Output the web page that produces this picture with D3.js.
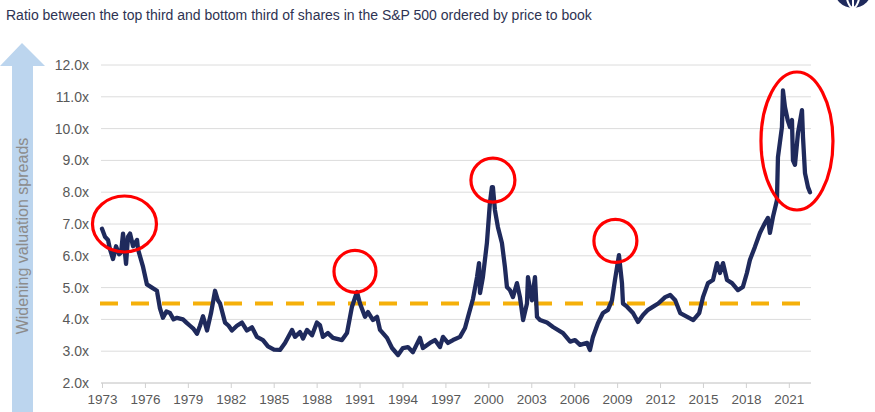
<!DOCTYPE html>
<html>
<head>
<meta charset="utf-8">
<script src="https://cdn.jsdelivr.net/npm/d3@7"></script>
<style>
  body { margin: 0; background: #fff; }
  svg { display: block; font-family: "Liberation Sans", Arial, sans-serif; }
</style>
</head>
<body>
<div id="chart"></div>
<script>
// Set dimensions
var w = 875;
var h = 412;
var margin = {top: 65, right: 64, bottom: 29, left: 102};

// Data (decimal year, ratio)
var years = [
  1973.00, 1973.21, 1973.42, 1973.56, 1973.77, 1973.98, 1974.19, 1974.33, 1974.47, 1974.68,
  1974.82, 1974.96, 1975.17, 1975.45, 1975.52, 1975.87, 1976.14, 1976.49, 1976.84, 1977.05,
  1977.26, 1977.50, 1977.75, 1978.00, 1978.24, 1978.66, 1978.90, 1979.15, 1979.40, 1979.64,
  1979.85, 1980.06, 1980.34, 1980.62, 1980.90, 1981.10, 1981.25, 1981.60, 1981.85, 1982.08,
  1982.43, 1982.78, 1983.13, 1983.48, 1983.83, 1984.25, 1984.60, 1985.02, 1985.44, 1985.79,
  1986.28, 1986.49, 1986.84, 1987.05, 1987.33, 1987.68, 1988.02, 1988.23, 1988.44, 1988.79,
  1989.14, 1989.50, 1989.77, 1990.12, 1990.47, 1990.82, 1991.03, 1991.38, 1991.59, 1991.94,
  1992.22, 1992.43, 1992.92, 1993.27, 1993.69, 1994.03, 1994.38, 1994.73, 1995.22, 1995.43,
  1995.92, 1996.27, 1996.62, 1996.83, 1997.18, 1997.53, 1998.02, 1998.37, 1998.58, 1998.93,
  1999.21, 1999.35, 1999.42, 1999.62, 1999.90, 2000.11, 2000.25, 2000.32, 2000.46, 2000.67,
  2000.95, 2001.16, 2001.30, 2001.51, 2001.72, 2002.00, 2002.21, 2002.43, 2002.70, 2002.77,
  2003.05, 2003.26, 2003.40, 2003.61, 2004.10, 2004.52, 2005.22, 2005.72, 2006.06, 2006.41,
  2006.90, 2007.10, 2007.31, 2007.66, 2008.01, 2008.36, 2008.64, 2008.85, 2009.13, 2009.34,
  2009.41, 2009.69, 2010.11, 2010.46, 2010.81, 2011.16, 2011.52, 2011.87, 2012.36, 2012.71,
  2013.06, 2013.41, 2013.90, 2014.32, 2014.74, 2015.00, 2015.35, 2015.70, 2015.98, 2016.19,
  2016.40, 2016.68, 2017.03, 2017.44, 2017.79, 2018.07, 2018.28, 2018.63, 2018.98, 2019.33,
  2019.54, 2019.68, 2019.89, 2020.17, 2020.24, 2020.52, 2020.59, 2020.73, 2020.92, 2021.08,
  2021.22, 2021.29, 2021.43, 2021.64, 2021.92, 2021.99, 2022.13, 2022.34, 2022.48
];

var ratios = [
  6.85, 6.60, 6.50, 6.20, 5.90, 6.30, 6.05, 6.10, 6.70, 5.75,
  6.60, 6.70, 6.30, 6.50, 6.20, 5.65, 5.10, 5.00, 4.90, 4.35,
  4.05, 4.25, 4.20, 4.00, 4.05, 4.00, 3.90, 3.80, 3.70, 3.55,
  3.80, 4.10, 3.65, 4.20, 4.90, 4.60, 4.50, 3.90, 3.80, 3.65,
  3.80, 3.90, 3.65, 3.75, 3.45, 3.35, 3.15, 3.05, 3.04, 3.26,
  3.67, 3.45, 3.60, 3.40, 3.67, 3.50, 3.90, 3.82, 3.45, 3.57,
  3.42, 3.38, 3.35, 3.57, 4.40, 4.86, 4.50, 4.08, 4.23, 3.98,
  4.08, 3.67, 3.42, 3.10, 2.88, 3.10, 3.13, 2.97, 3.42, 3.10,
  3.26, 3.35, 3.13, 3.45, 3.26, 3.35, 3.45, 3.73, 4.08, 4.65,
  5.33, 5.77, 4.83, 5.33, 6.40, 7.66, 8.16, 8.16, 7.44, 6.90,
  6.40, 5.65, 5.02, 4.92, 4.70, 5.14, 4.70, 3.98, 4.50, 5.33,
  4.60, 5.33, 4.08, 3.98, 3.90, 3.76, 3.57, 3.30, 3.35, 3.20,
  3.26, 3.04, 3.45, 3.88, 4.20, 4.30, 4.60, 5.24, 6.02, 5.14,
  4.50, 4.40, 4.20, 3.92, 4.14, 4.30, 4.40, 4.50, 4.70, 4.77,
  4.60, 4.20, 4.08, 3.98, 4.20, 4.70, 5.14, 5.24, 5.77, 5.46,
  5.77, 5.24, 5.14, 4.92, 5.02, 5.46, 5.87, 6.28, 6.72, 7.03,
  7.19, 6.72, 7.22, 7.75, 9.10, 10.05, 11.20, 10.68, 10.27, 10.05,
  10.27, 9.00, 8.86, 9.86, 10.58, 9.74, 8.60, 8.16, 8.00
];

var tickYears = d3.range(1973, 2022, 3);
var tickValues = d3.range(2, 13, 1);
var averageRatio = 4.5;

// Highlighted episodes: centre (year, ratio), radii in px
var highlightYears = [1974.57, 1990.68, 2000.32, 2008.88, 2021.57];
var highlightRatios = [7.0, 5.51, 8.38, 6.47, 9.61];
var highlightRx = [32, 21, 22, 21.5, 36];
var highlightRy = [28, 21, 22, 21.5, 69];

var titleText = "Ratio between the top third and bottom third of shares in the S&P 500 ordered by price to book";
var arrowText = "Widening valuation spreads";

var dataset = years.map(function(y, i) { return {year: y, value: ratios[i]}; });

var xScale = d3.scaleLinear()
    .domain([1973, 2022.55])
    .range([margin.left, w - margin.right]);

var yScale = d3.scaleLinear()
    .domain([2, 12])
    .range([h - margin.bottom, margin.top]);

var svg = d3.select("#chart")
    .append("svg")
    .attr("width", w)
    .attr("height", h);

// Title
svg.append("text")
    .attr("x", 6)
    .attr("y", 20)
    .style("font-size", "14px")
    .style("fill", "#2e3352")
    .text(titleText);

// Logo fragment top right
var logo = svg.append("g").attr("transform", "translate(853,-11)");
logo.append("circle").attr("r", 19).style("fill", "#1f2a5c");
logo.append("ellipse").attr("rx", 7).attr("ry", 19)
    .style("fill", "none").style("stroke", "#fff").style("stroke-width", 2);
logo.append("line").attr("x1", 0).attr("x2", 0).attr("y1", -19).attr("y2", 19)
    .style("stroke", "#fff").style("stroke-width", 2);
logo.append("line").attr("x1", -17).attr("x2", 17).attr("y1", 10).attr("y2", 10)
    .style("stroke", "#fff").style("stroke-width", 2);

// Big arrow on the left
svg.append("path")
    .attr("d", "M22,43 L45,66 L33,66 L33,412 L12,412 L12,66 L0,66 Z")
    .style("fill", "#bcd5ee");

svg.append("text")
    .attr("transform", "translate(28,236) rotate(-90)")
    .attr("text-anchor", "middle")
    .style("font-size", "16px")
    .style("fill", "#8c8c8c")
    .text(arrowText);

// Gridlines
svg.append("g")
    .selectAll("line")
    .data(tickValues)
    .enter()
    .append("line")
    .attr("x1", xScale(1973) - 1)
    .attr("x2", xScale.range()[1])
    .attr("y1", function(d) { return yScale(d); })
    .attr("y2", function(d) { return yScale(d); })
    .style("stroke", "#dcdcdc")
    .style("stroke-width", 1);

// Y axis labels
var yAxis = d3.axisLeft(yScale)
    .tickValues(tickValues)
    .tickSize(0)
    .tickPadding(0)
    .tickFormat(function(d) { return d.toFixed(1) + "x"; });

var yAxisG = svg.append("g")
    .attr("transform", "translate(89,0)")
    .call(yAxis);
yAxisG.select(".domain").remove();
yAxisG.selectAll("text")
    .style("font-size", "14px")
    .style("fill", "#595959")
    .style("font-family", "'Liberation Sans', Arial, sans-serif");

// X axis
var xAxis = d3.axisBottom(xScale)
    .tickValues(tickYears)
    .tickSize(5)
    .tickPadding(6)
    .tickFormat(d3.format("d"));

var xAxisG = svg.append("g")
    .attr("transform", "translate(0," + yScale(2) + ")")
    .call(xAxis);
xAxisG.select(".domain")
    .attr("d", "M" + (xScale(1973) - 1) + ",0H" + xScale.range()[1])
    .style("stroke", "#d0d0d0");
xAxisG.selectAll(".tick line").style("stroke", "#d0d0d0");
xAxisG.selectAll("text")
    .style("font-size", "13.5px")
    .style("fill", "#595959")
    .style("font-family", "'Liberation Sans', Arial, sans-serif");

// Average dashed line
svg.append("line")
    .attr("x1", xScale(1973) - 2)
    .attr("x2", xScale.range()[1])
    .attr("y1", yScale(averageRatio))
    .attr("y2", yScale(averageRatio))
    .style("stroke", "#f5b00a")
    .style("stroke-width", 4)
    .style("stroke-dasharray", "18,13");

// Ratio line
var line = d3.line()
    .x(function(d) { return xScale(d.year); })
    .y(function(d) { return yScale(d.value); });

svg.append("path")
    .datum(dataset)
    .attr("d", line)
    .style("fill", "none")
    .style("stroke", "#1f2a5c")
    .style("stroke-width", 4.3)
    .style("stroke-linejoin", "round")
    .style("stroke-linecap", "round");

// Red highlight ellipses
svg.append("g")
    .selectAll("ellipse")
    .data(highlightYears)
    .enter()
    .append("ellipse")
    .attr("cx", function(d) { return xScale(d); })
    .attr("cy", function(d, i) { return yScale(highlightRatios[i]); })
    .attr("rx", function(d, i) { return highlightRx[i]; })
    .attr("ry", function(d, i) { return highlightRy[i]; })
    .style("fill", "none")
    .style("stroke", "#ff0000")
    .style("stroke-width", 3.2);
</script>
</body>
</html>
